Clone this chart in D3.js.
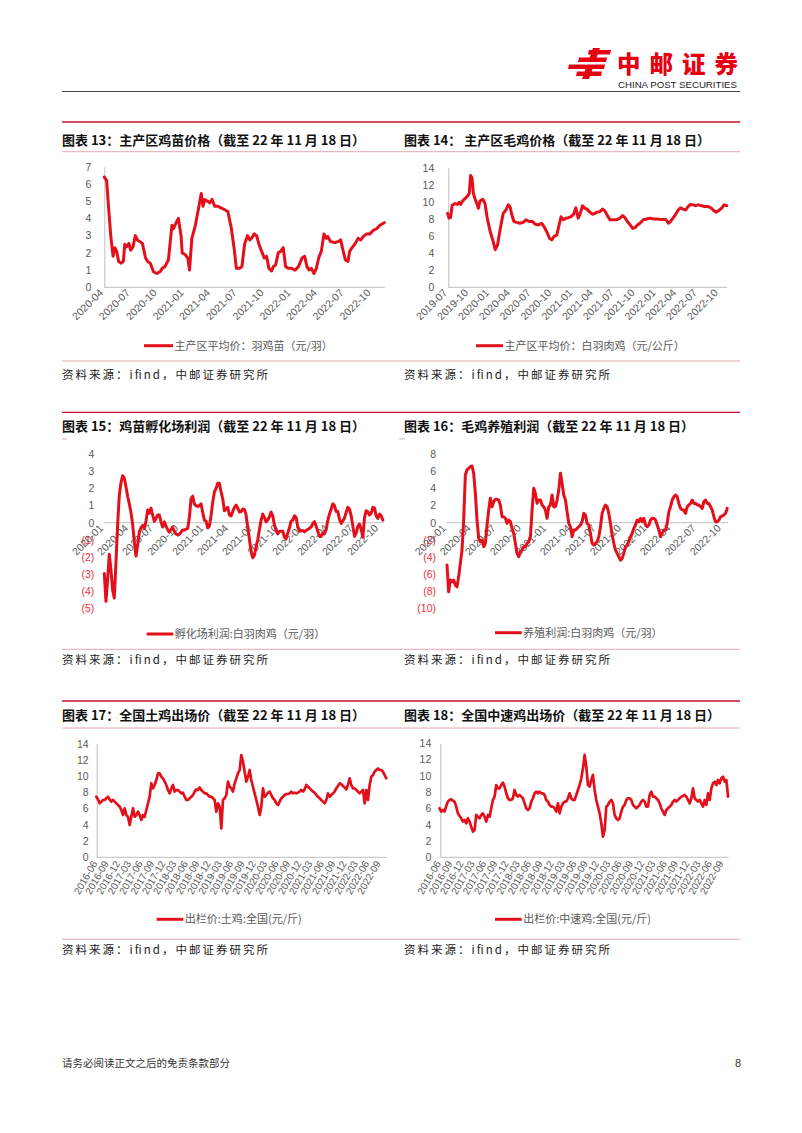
<!DOCTYPE html>
<html><head><meta charset="utf-8">
<script src="https://cdn.jsdelivr.net/npm/d3@7"></script>
<style>body{margin:0;background:#fff}svg{display:block}</style>
</head><body>
<svg id="page" width="802" height="1133"></svg>
<script>
// ---------------- DATA ----------------
const chickPrice = [["2020-04-01",6.4],["2020-04-09",6.2],["2020-04-14",5.0],["2020-04-23",3.0],["2020-05-01",1.8],["2020-05-07",2.3],["2020-05-13",2.1],["2020-05-20",1.5],["2020-05-29",1.4],["2020-06-05",1.5],["2020-06-10",2.5],["2020-06-16",2.35],["2020-06-24",2.55],["2020-06-30",2.15],["2020-07-08",2.35],["2020-07-16",3.0],["2020-07-23",2.75],["2020-08-01",2.65],["2020-08-09",2.55],["2020-08-16",2.0],["2020-08-20",1.7],["2020-08-27",1.5],["2020-09-05",1.4],["2020-09-16",0.9],["2020-09-27",0.8],["2020-10-08",0.9],["2020-10-16",1.1],["2020-10-25",1.2],["2020-11-06",1.6],["2020-11-18",3.6],["2020-11-23",3.4],["2020-12-01",3.7],["2020-12-10",4.0],["2020-12-19",3.0],["2020-12-23",2.0],["2021-01-02",1.9],["2021-01-11",1.7],["2021-01-17",1.0],["2021-01-25",2.85],["2021-02-06",3.6],["2021-02-17",4.6],["2021-02-26",5.45],["2021-03-04",4.7],["2021-03-10",5.1],["2021-03-19",5.0],["2021-03-27",4.9],["2021-04-04",5.1],["2021-04-13",4.7],["2021-04-24",4.7],["2021-05-06",4.6],["2021-05-17",4.5],["2021-05-28",4.4],["2021-06-09",3.4],["2021-06-18",2.3],["2021-06-26",1.1],["2021-07-07",1.1],["2021-07-15",1.2],["2021-07-24",2.5],["2021-08-03",3.0],["2021-08-11",2.75],["2021-08-17",2.85],["2021-08-26",3.1],["2021-09-03",3.0],["2021-09-11",2.5],["2021-09-20",2.1],["2021-09-29",1.7],["2021-10-07",1.8],["2021-10-15",1.1],["2021-10-24",0.95],["2021-10-30",1.2],["2021-11-07",1.3],["2021-11-16",2.0],["2021-11-25",2.1],["2021-12-03",2.3],["2021-12-11",1.2],["2021-12-20",1.1],["2022-01-01",1.1],["2022-01-12",1.0],["2022-01-24",1.2],["2022-02-05",1.7],["2022-02-14",1.8],["2022-02-22",1.2],["2022-03-01",1.0],["2022-03-09",1.1],["2022-03-18",0.8],["2022-03-26",1.1],["2022-04-03",1.7],["2022-04-12",2.1],["2022-04-21",3.1],["2022-04-29",2.85],["2022-05-04",2.95],["2022-05-14",2.65],["2022-05-28",2.6],["2022-06-08",2.65],["2022-06-17",2.75],["2022-06-25",2.15],["2022-07-03",1.6],["2022-07-12",1.5],["2022-07-18",2.1],["2022-07-26",2.3],["2022-08-04",2.5],["2022-08-16",2.85],["2022-08-25",2.75],["2022-09-02",2.95],["2022-09-14",3.1],["2022-09-25",3.1],["2022-10-06",3.3],["2022-10-18",3.4],["2022-10-29",3.6],["2022-11-13",3.75]];

const broilerPrice = [["2019-06-28",8.65],["2019-07-04",8.1],["2019-07-11",8.15],["2019-07-18",9.6],["2019-07-30",9.8],["2019-08-09",9.7],["2019-08-18",9.95],["2019-08-24",9.7],["2019-09-02",10.1],["2019-09-09",10.3],["2019-09-17",10.5],["2019-09-24",10.7],["2019-10-01",11.0],["2019-10-07",13.1],["2019-10-13",12.8],["2019-10-19",11.0],["2019-10-26",10.4],["2019-11-03",9.8],["2019-11-10",9.25],["2019-11-17",10.1],["2019-11-29",10.3],["2019-12-09",9.8],["2019-12-19",8.1],["2020-01-01",6.5],["2020-01-12",5.55],["2020-01-23",4.4],["2020-02-02",4.95],["2020-02-13",6.7],["2020-02-27",8.65],["2020-03-10",9.05],["2020-03-20",9.65],["2020-03-28",9.45],["2020-04-04",8.55],["2020-04-14",7.7],["2020-04-26",7.6],["2020-05-10",7.5],["2020-05-25",7.6],["2020-06-06",7.9],["2020-06-20",7.7],["2020-07-05",7.7],["2020-07-15",7.4],["2020-07-30",7.3],["2020-08-14",7.5],["2020-08-24",7.1],["2020-09-05",6.5],["2020-09-17",5.75],["2020-09-27",5.55],["2020-10-07",5.95],["2020-10-19",6.1],["2020-10-31",7.5],["2020-11-07",8.25],["2020-11-17",7.9],["2020-11-29",8.1],["2020-12-09",8.15],["2020-12-19",8.25],["2021-01-01",8.55],["2021-01-11",9.3],["2021-01-21",8.1],["2021-01-30",8.65],["2021-02-09",9.55],["2021-02-20",9.25],["2021-03-01",9.15],["2021-03-13",8.8],["2021-03-25",8.55],["2021-04-04",8.65],["2021-04-14",8.8],["2021-04-26",8.85],["2021-05-08",9.15],["2021-05-18",8.95],["2021-05-28",8.45],["2021-06-09",7.9],["2021-06-24",7.9],["2021-07-08",7.9],["2021-07-23",8.1],["2021-08-04",8.4],["2021-08-14",8.15],["2021-08-25",7.7],["2021-09-06",7.3],["2021-09-17",6.9],["2021-09-28",7.0],["2021-10-08",7.3],["2021-10-19",7.5],["2021-11-03",7.9],["2021-11-18",8.0],["2021-12-02",8.1],["2021-12-17",8.0],["2022-01-01",8.0],["2022-01-16",7.95],["2022-01-31",7.95],["2022-02-11",7.9],["2022-02-21",7.5],["2022-03-02",7.7],["2022-03-13",8.1],["2022-03-25",8.55],["2022-04-05",9.05],["2022-04-15",9.3],["2022-04-27",9.15],["2022-05-08",9.05],["2022-05-18",9.45],["2022-05-29",9.7],["2022-06-10",9.65],["2022-06-21",9.55],["2022-07-01",9.65],["2022-07-16",9.55],["2022-07-31",9.45],["2022-08-15",9.45],["2022-08-29",9.25],["2022-09-09",8.95],["2022-09-18",8.8],["2022-09-28",8.95],["2022-10-12",9.25],["2022-10-23",9.65],["2022-11-04",9.55]];

// regularly sampled series: first sample date + spacing in days
const hatchProfitStart = "2020-01-01", hatchProfitStepDays = 6.09;
const hatchProfit = [-2.97,-4.6,-3.3,-1.85,-2.77,-3.95,-4.4,-2.3,-0.1,1.6,2.35,2.75,2.6,2.1,1.55,1.1,0.6,-0.1,-1.15,-1.95,-1.3,-0.55,-0.3,-0.16,-0.33,0.1,0.74,0.55,0.85,0.45,0.08,0.25,0.45,0.45,0.05,-0.25,0.05,-0.2,-0.4,-0.55,-0.4,-0.28,-0.5,-0.66,-0.72,-0.68,-0.55,-0.43,-0.43,-0.38,-0.33,0.3,1.4,1.55,1.1,1.0,0.95,1.0,1.1,0.6,0.15,0.1,-0.3,-0.2,0.4,1.2,1.8,2.0,2.3,2.3,1.8,1.4,0.7,0.8,0.9,0.45,0.4,0.65,0.9,1.03,0.85,0.63,0.65,0.8,0.78,0.45,-0.3,-0.95,-1.7,-2.05,-1.9,-1.4,-1.0,-0.4,0.15,0.5,0.3,0.05,0.16,0.35,0.62,0.4,-0.15,-0.45,-0.65,-0.5,-0.5,-0.5,-0.85,-0.95,-0.6,-0.3,0.1,0.15,0.4,0.3,-0.25,-0.5,-0.47,-0.47,-0.53,-0.45,-0.4,-0.32,-0.25,-0.05,0.06,-0.2,-0.5,-0.8,-0.8,-0.6,-0.65,-0.4,0.15,0.5,0.8,1.1,1.0,0.65,0.65,0.2,-0.05,0.1,0.28,0.6,0.9,0.8,0.4,-0.2,-0.8,-0.6,-0.2,-0.08,-0.4,-0.85,0.3,0.7,0.64,0.45,0.55,0.9,0.85,0.4,0.25,0.5,0.4,0.15];

const farmProfitStart = "2020-01-01", farmProfitStepDays = 6.09;
const farmProfit = [-4.96,-8.08,-6.7,-6.9,-6.7,-7.3,-7.5,-6.3,-4.76,-3.2,0.3,5.58,6.17,6.36,6.56,6.63,5.78,3.43,0.31,-1.83,-2.22,-2.03,-2.81,-2.42,-0.27,1.48,2.85,1.87,2.46,2.73,2.73,2.65,2.07,0.7,0.7,0.51,-0.08,0.31,0.12,-0.66,-1.25,-2.42,-3.59,-3.98,-3.4,-3.2,-2.81,-2.81,-2.42,-2.22,-1.64,1.48,4.02,3.43,2.26,2.65,2.65,2.07,1.87,1.48,0.51,1.87,2.07,3.24,1.87,1.87,2.65,3.82,5.78,4.6,3.24,2.65,1.29,-0.08,-0.47,-1.64,-0.86,-0.86,-0.66,-0.47,-0.27,0.12,1.09,0.9,-0.08,-0.27,-1.25,-2.42,-2.61,-2.42,-2.22,-1.64,-0.47,1.09,1.68,2.07,1.87,1.09,-0.08,-1.44,-2.42,-3.2,-3.59,-3.98,-4.37,-4.18,-3.59,-2.81,-2.61,-2.22,-1.64,-1.25,-0.66,-0.27,0.31,0.12,0.51,0.12,0.51,-0.27,-0.47,-0.27,0.31,0.51,0.51,0.31,-0.27,-0.86,-1.64,-1.25,-0.86,-0.86,-0.08,1.29,1.87,2.65,3.04,3.24,3.04,2.26,1.68,1.48,1.48,1.09,1.87,2.07,2.26,2.65,2.26,2.26,2.07,2.07,1.87,1.68,2.46,2.65,2.26,2.26,1.87,1.48,0.7,0.12,0.12,0.31,0.7,0.78,0.9,1.09,1.68];

const nativeChickenStart = "2016-05-29", nativeChickenStepDays = 13.43;
const nativeChicken = [7.47,7.14,6.65,6.86,7.06,7.06,7.27,7.47,7.14,6.86,7.06,6.86,6.65,6.44,6.24,5.83,5.21,6.03,5.21,5.0,3.98,5.0,6.03,5.0,5.21,5.62,5.21,4.6,5.21,5.0,5.83,6.65,7.47,9.11,8.5,8.91,9.52,10.34,10.34,9.93,9.73,9.32,8.91,8.29,7.88,8.5,8.91,8.09,8.29,8.29,8.09,7.88,7.96,7.47,7.06,7.06,7.27,7.47,7.68,8.09,8.37,8.29,8.62,8.29,8.09,7.88,7.88,7.68,7.47,7.47,7.27,7.06,5.62,6.65,6.24,3.57,7.06,7.27,7.68,9.32,8.7,8.5,8.09,9.11,9.73,10.34,10.76,12.6,11.78,10.55,9.32,9.93,10.76,9.52,8.7,7.88,7.06,6.24,5.21,6.24,8.5,7.47,7.68,7.96,8.09,7.68,7.27,7.06,6.65,6.44,6.86,7.27,7.47,7.68,7.8,7.8,7.88,8.09,7.88,7.96,7.88,7.96,8.09,8.29,8.09,8.37,8.91,8.7,8.5,8.29,8.09,7.96,7.68,7.47,7.27,7.06,6.86,6.65,7.06,7.88,7.47,7.68,7.88,8.09,8.5,8.78,9.11,9.03,8.78,8.62,8.37,8.91,9.73,8.91,8.5,8.5,8.29,8.09,7.88,8.09,8.29,6.65,8.29,7.06,8.91,9.93,10.14,10.55,10.76,10.96,10.76,10.76,10.55,10.14,9.73];

const mediumChickenStart = "2016-05-26", mediumChickenStepDays = 13.48;
const mediumChicken = [6.02,5.61,5.81,5.61,6.3,6.84,7.04,7.12,6.96,6.84,6.22,5.4,5.08,4.79,4.38,4.58,4.18,4.79,4.38,3.77,3.15,3.36,5.2,4.99,4.79,5.2,5.4,4.99,4.38,5.2,4.99,6.02,7.04,7.45,8.88,8.47,8.47,8.88,9.17,8.68,7.86,7.25,7.04,7.04,7.25,8.27,7.65,7.45,7.65,7.45,7.25,6.63,6.02,5.81,6.02,6.84,7.25,7.86,8.06,7.86,8.06,7.86,7.86,7.65,7.04,6.84,6.43,6.22,6.22,6.02,5.61,6.63,5.4,6.22,6.63,6.84,6.84,7.25,7.86,7.25,7.04,7.04,7.65,8.27,8.88,9.7,10.93,12.57,11.13,8.88,8.68,9.5,10.11,8.27,7.04,6.22,5.4,4.18,2.54,3.36,6.22,6.43,6.84,7.04,6.63,5.2,4.79,4.58,4.79,5.61,6.22,6.43,7.04,7.25,7.25,7.04,6.43,6.22,6.02,6.22,6.43,6.84,7.04,6.84,6.22,6.22,7.65,8.06,7.45,7.45,7.25,7.04,6.63,6.02,5.61,5.2,5.81,6.02,6.22,6.43,6.84,7.04,6.84,7.04,7.25,7.45,7.53,7.65,7.45,7.04,6.63,7.25,8.47,7.25,7.04,6.84,7.04,6.63,6.22,7.04,6.43,7.86,7.04,8.47,9.09,9.29,8.88,9.5,9.09,9.7,9.91,9.29,9.5,7.45];

const ticks13 = ["2020-04","2020-07","2020-10","2021-01","2021-04","2021-07","2021-10","2022-01","2022-04","2022-07","2022-10"];
const ticks14 = ["2019-07","2019-10","2020-01","2020-04","2020-07","2020-10","2021-01","2021-04","2021-07","2021-10","2022-01","2022-04","2022-07","2022-10"];
const ticks1516 = ["2020-01","2020-04","2020-07","2020-10","2021-01","2021-04","2021-07","2021-10","2022-01","2022-04","2022-07","2022-10"];
const ticks1718 = ["2016-06","2016-09","2016-12","2017-03","2017-06","2017-09","2017-12","2018-03","2018-06","2018-09","2018-12","2019-03","2019-06","2019-09","2019-12","2020-03","2020-06","2020-09","2020-12","2021-03","2021-06","2021-09","2021-12","2022-03","2022-06","2022-09"];

const titles = ["图表 13：主产区鸡苗价格（截至 22 年 11 月 18 日）","图表 14：  主产区毛鸡价格（截至 22 年 11 月 18 日）","图表 15：鸡苗孵化场利润（截至 22 年 11 月 18 日）","图表 16：毛鸡养殖利润（截至 22 年 11 月 18 日）","图表 17：全国土鸡出场价（截至 22 年 11 月 18 日）","图表 18：全国中速鸡出场价（截至 22 年 11 月 18 日）"];
const legends = ["主产区平均价：羽鸡苗（元/羽）","主产区平均价：白羽肉鸡（元/公斤）","孵化场利润:白羽肉鸡（元/羽）","养殖利润:白羽肉鸡（元/羽）","出栏价:土鸡:全国(元/斤)","出栏价:中速鸡:全国(元/斤)"];
const sourceText = "资料来源：ifind，中邮证券研究所";
const footerText = "请务必阅读正文之后的免责条款部分";
const pageNumber = "8";

// ---------------- DRAW ----------------
const svg = d3.select("#page");
const RED = "#e3101b";
const CJK = "'Noto Sans CJK SC','Noto Sans',sans-serif";
const NUM = "'Liberation Sans',Arial,sans-serif";
const parseDay = d3.timeParse("%Y-%m-%d");
const parseMonth = d3.timeParse("%Y-%m");

function regular(start, stepDays, vals){
  const t0 = parseDay(start).getTime();
  return vals.map((v,i)=>[new Date(t0 + i*stepDays*86400000), v]);
}

// header
const logo = svg.append("g").attr("fill","#e60012");
logo.append("path").attr("d","M589,50 L611,50 L610,54.5 L588,54.5 Z");
logo.append("path").attr("d","M579,57.5 L607,57.5 L606,62 L578,62 Z");
logo.append("path").attr("d","M569,64.5 L605,64.5 L604,69 L568,69 Z");
logo.append("path").attr("d","M577,71.5 L602,71.5 L601,76 L576,76 Z");
logo.append("path").attr("d","M593,48 L600,48 L589,79 L582,79 Z");
logo.append("path").attr("d","M586,62 L596,62 L595,64.5 L585,64.5 Z").attr("fill","#fff");
svg.append("text").attr("x",617).attr("y",73).attr("font-family",CJK).attr("font-weight",900)
  .attr("font-size",23.5).attr("fill","#e60012").attr("textLength",121).attr("lengthAdjust","spacing").text("中邮证券");
svg.append("text").attr("x",618).attr("y",88).attr("font-family",NUM).attr("font-size",9.2)
  .attr("fill","#222").attr("textLength",119).attr("lengthAdjust","spacingAndGlyphs").text("CHINA POST SECURITIES");
svg.append("line").attr("x1",62).attr("x2",740).attr("y1",91.5).attr("y2",91.5).attr("stroke","#333").attr("stroke-width",0.9);

// row frames
const rows = [
  {top:122, titleY:144.5, under:151.7, src:361, srcY:378.5},
  {top:412.3, titleY:431.2, under:null, src:649.3, srcY:663.8},
  {top:701, titleY:719.5, under:728, src:939.3, srcY:953.5}
];
rows.forEach((r,i)=>{
  svg.append("line").attr("x1",62).attr("x2",740).attr("y1",r.top).attr("y2",r.top).attr("stroke","#c8102e").attr("stroke-width",1.3);
  if(r.under!==null) svg.append("line").attr("x1",62).attr("x2",740).attr("y1",r.under).attr("y2",r.under).attr("stroke","#e4a9b2").attr("stroke-width",1);
  svg.append("line").attr("x1",62).attr("x2",740).attr("y1",r.src).attr("y2",r.src).attr("stroke","#e4a9b2").attr("stroke-width",1);
  [62,404].forEach((tx,j)=>{
    svg.append("text").attr("x",tx).attr("y",r.titleY).attr("font-family",CJK).attr("font-weight",700)
      .attr("font-size",13).attr("fill","#111").text(titles[i*2+j]);
    svg.append("text").attr("x",tx).attr("y",r.srcY).attr("font-family",CJK).attr("font-size",11.5)
      .attr("fill","#222").attr("textLength",206).attr("lengthAdjust","spacing").text(sourceText);
  });
});
svg.append("line").attr("x1",62).attr("x2",67).attr("y1",439).attr("y2",439).attr("stroke","#e4a9b2");
svg.append("line").attr("x1",399).attr("x2",405).attr("y1",439).attr("y2",439).attr("stroke","#bbb");

// footer
svg.append("text").attr("x",62).attr("y",1067).attr("font-family",CJK).attr("font-size",10.5)
  .attr("fill","#333").attr("textLength",168).attr("lengthAdjust","spacing").text(footerText);
svg.append("text").attr("x",735).attr("y",1067).attr("font-family",NUM).attr("font-size",11).attr("fill","#333").text(pageNumber);

function panel(c){
  const g = svg.append("g");
  const x = d3.scaleTime().domain(c.xDomain.map(parseMonth)).range(c.xRange);
  const y = d3.scaleLinear().domain(c.yDomain).range(c.yRange);
  const ya = d3.axisLeft(y).tickValues(c.yTicks).tickSize(0).tickSizeOuter(0).tickPadding(c.yPad)
    .tickFormat(v => v<0 ? "(" + (-v) + ")" : String(v));
  const yg = g.append("g").attr("transform",`translate(${c.xRange[0]},0)`).call(ya);
  if(c.zero) yg.select(".domain").remove();
  else yg.select(".domain").attr("stroke","#bfbfbf").attr("stroke-width",1);
  yg.selectAll("text").attr("font-family",NUM).attr("font-size",10.5)
    .attr("fill", d => d<0 ? "#e8333b" : "#595959");
  const axisY = c.zero ? y(0) : c.yRange[0];
  const xa = d3.axisBottom(x).tickValues(c.ticks.map(parseMonth)).tickFormat(d3.timeFormat("%Y-%m"))
    .tickSize(0).tickSizeOuter(0);
  const xg = g.append("g").attr("transform",`translate(0,${axisY})`).call(xa);
  xg.select(".domain").attr("d",`M${c.xRange[0]},0H${c.axisEnd}`).attr("stroke","#bfbfbf").attr("stroke-width",1);
  xg.selectAll("text").attr("y",0).attr("x",-5).attr("dy","0.35em").attr("text-anchor","end")
    .attr("transform",`rotate(${c.rot})`).attr("font-family",NUM).attr("font-size",c.xFont).attr("fill","#595959");
  const line = d3.line().x(d=>x(d[0])).y(d=>y(d[1]));
  g.append("path").datum(c.data).attr("d",line).attr("fill","none").attr("stroke",RED)
    .attr("stroke-width",c.lw).attr("stroke-linejoin","round").attr("stroke-linecap","round");
  g.append("line").attr("x1",c.leg[0]).attr("x2",c.leg[1]).attr("y1",c.leg[2]).attr("y2",c.leg[2])
    .attr("stroke",RED).attr("stroke-width",3);
  g.append("text").attr("x",c.leg[1]+1.5).attr("y",c.leg[2]+4).attr("font-family",CJK).attr("font-size",11)
    .attr("fill","#595959").text(c.legend);
}

panel({data:chickPrice.map(d=>[parseDay(d[0]),d[1]]), xDomain:["2020-04","2022-10"], xRange:[104.3,371.7], axisEnd:385,
  yDomain:[0,7], yRange:[287.3,166.7], yTicks:d3.range(0,8,1), yPad:13, ticks:ticks13, rot:-45, xFont:10.5, lw:3,
  leg:[144,173,345.7], legend:legends[0]});
panel({data:broilerPrice.map(d=>[parseDay(d[0]),d[1]]), xDomain:["2019-07","2022-10"], xRange:[448.3,719], axisEnd:727,
  yDomain:[0,14], yRange:[287.3,167.7], yTicks:d3.range(0,15,2), yPad:14, ticks:ticks14, rot:-45, xFont:10.5, lw:3,
  leg:[476,503,345.7], legend:legends[1]});
panel({data:regular(hatchProfitStart,hatchProfitStepDays,hatchProfit), xDomain:["2020-01","2022-10"], xRange:[104.3,379.3], axisEnd:383.5,
  yDomain:[-5,4], yRange:[608.2,454.3], yTicks:d3.range(-5,5,1), yPad:10, ticks:ticks1516, rot:-45, xFont:10.5, lw:3, zero:true,
  leg:[146.7,173.3,634], legend:legends[2]});
panel({data:regular(farmProfitStart,farmProfitStepDays,farmProfit), xDomain:["2020-01","2022-10"], xRange:[447,722], axisEnd:728,
  yDomain:[-10,8], yRange:[608.2,454.3], yTicks:d3.range(-10,9,2), yPad:11, ticks:ticks1516, rot:-45, xFont:10.5, lw:3, zero:true,
  leg:[495,521.7,632.7], legend:legends[3]});
panel({data:regular(nativeChickenStart,nativeChickenStepDays,nativeChicken), xDomain:["2016-06","2022-09"], xRange:[96.7,380], axisEnd:386.5,
  yDomain:[0,14], yRange:[857.3,743.7], yTicks:d3.range(0,15,2), yPad:8, ticks:ticks1718, rot:-60, xFont:10, lw:2.7,
  leg:[156.7,183.3,919.3], legend:legends[4]});
panel({data:regular(mediumChickenStart,mediumChickenStepDays,mediumChicken), xDomain:["2016-06","2022-09"], xRange:[440.3,722.7], axisEnd:728.5,
  yDomain:[0,14], yRange:[857.3,743.3], yTicks:d3.range(0,15,2), yPad:9, ticks:ticks1718, rot:-60, xFont:10, lw:2.7,
  leg:[495,521.7,919.3], legend:legends[5]});
</script>
</body></html>
